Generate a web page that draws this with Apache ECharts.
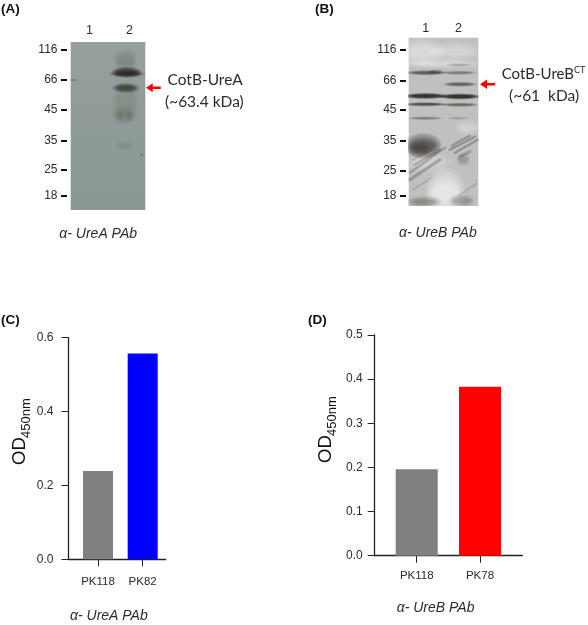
<!DOCTYPE html>
<html>
<head>
<meta charset="utf-8">
<style>html,body{margin:0;padding:0;background:#fff}#c{width:588px;height:625px}</style>
<script src="https://cdn.jsdelivr.net/npm/echarts@6/dist/echarts.min.js"></script>
</head>
<body>
<div id="c"></div>
<script>
// Marker ladders (kDa) and where each one ran on its blot (migration distance)
const markersKDa = ['116', '66', '45', '35', '25', '18'];
const migrationA = [7.3, 38, 67.3, 98.7, 128, 153.3];
const migrationB = [11.6, 43.3, 72.3, 103.3, 133.3, 158.3];
const laneLabels = ['1', '2'];

// Blot bands: [lane, migration, lane half-width, thickness, density]; negative density is a pale patch
const bandsA = [
  [1.9, 19, 0.22, 16, 0.1],
  [1.9, 60, 0.26, 26, 0.07],
  [1.87, 73, 0.24, 12, 0.09],
  [1.76, 74, 0.07, 7, 0.05],
  [2.0, 74, 0.07, 7, 0.05],
  [1.87, 104, 0.18, 7, 0.03],
  [1.94, 32, 0.34, 3.5, 0.35],
  [1.93, 30.5, 0.28, 6.5, 0.75],
  [1.91, 46, 0.25, 6, 0.55],
  [0.55, 38, 0.12, 2, 0.1],
  [2.3, 113, 0.04, 2, 0.15]
];
const bandsB = [
  [0.9, 14, 0.5, 16, -0.35],
  [1.9, 14, 0.6, 12, -0.25],
  [1.4, 26, 1.0, 6, -0.28],
  [1.6, 155, 0.45, 30, -0.55],
  [1.1, 124, 0.5, 14, -0.2],
  [2.3, 90, 0.3, 10, -0.2],
  [0.92, 108, 0.42, 15, 0.5],
  [0.8, 112, 0.26, 10, 0.22],
  [1.02, 35, 0.46, 3, 0.5],
  [1.3, 34, 0.18, 3, 0.2],
  [2.02, 35, 0.4, 2.5, 0.3],
  [2.02, 27.3, 0.28, 2, 0.14],
  [2.05, 46.6, 0.38, 3, 0.45],
  [1.0, 58.3, 0.48, 3.5, 1],
  [2.05, 58.8, 0.46, 3.5, 1],
  [1.0, 66.6, 0.48, 2.5, 0.6],
  [2.05, 67, 0.42, 2.5, 0.42],
  [0.98, 80.6, 0.4, 2, 0.3],
  [2.0, 80.6, 0.26, 2, 0.12],
  [0.95, 164, 0.4, 7, 0.22],
  [2.1, 163, 0.3, 8, 0.18],
  [2.15, 122, 0.16, 8, 0.14]
];
// Diagonal smears on blot B: [lane 1, migration 1, lane 2, migration 2, width, density]
const streaksB = [
  [0.52, 135, 1.59, 110, 1.2, 0.16],
  [0.67, 127, 1.44, 112, 1.2, 0.14],
  [0.52, 142, 1.44, 122, 1.6, 0.17],
  [0.6, 122, 1.2, 112, 1, 0.1],
  [1.74, 112, 2.51, 99, 1.2, 0.2],
  [1.9, 115, 2.6, 102, 1.2, 0.18],
  [1.8, 108, 2.35, 98, 1.2, 0.18],
  [2.05, 119, 2.35, 114, 1.6, 0.16],
  [0.6, 152, 1.2, 140, 1, 0.08],
  [2.0, 158, 2.55, 146, 1, 0.08]
];

// Bar panels
const categoriesC = ['PK118', 'PK82'];
const valuesC = [0.239, 0.557];
const colorsC = ['#808080', '#0000ff'];
const categoriesD = ['PK118', 'PK78'];
const valuesD = [0.196, 0.383];
const colorsD = ['#808080', '#ff0000'];

const sans = '"Liberation Sans", Arial, sans-serif';
const ink = '#2b2b2b';
const softLayers = [1.7, 1.45, 1.2, 1.0, 0.8, 0.55];

function drawBand(params, api) {
  const c = api.coord([api.value(0), api.value(1)]);
  const rx = api.size([api.value(2), 0])[0];
  const t = api.value(3);
  const d = api.value(4);
  const a = Math.abs(d) / softLayers.length * 1.6;
  const col = d >= 0 ? 'rgba(28,26,20,' + a + ')' : 'rgba(255,255,255,' + a + ')';
  return {
    type: 'group', silent: true,
    children: softLayers.map(k => ({
      type: 'ellipse', silent: true,
      shape: { cx: c[0], cy: c[1], rx: rx * (0.5 + k / 2), ry: t / 2 * k },
      style: { fill: col }
    }))
  };
}
function drawStreak(params, api) {
  const a = api.coord([api.value(0), api.value(1)]);
  const b = api.coord([api.value(2), api.value(3)]);
  const w = api.value(4);
  const d = api.value(5);
  return {
    type: 'group', silent: true,
    children: [2.6, 1.7, 1].map(k => ({
      type: 'line', silent: true,
      shape: { x1: a[0], y1: a[1], x2: b[0], y2: b[1] },
      style: { stroke: 'rgba(30,30,30,' + d * 0.6 + ')', lineWidth: w * k, lineCap: 'round' }
    }))
  };
}

function blotAxes(min, max, yMax, ticks, gridIndex, offset, laneMargin) {
  return {
    x: {
      type: 'value', gridIndex, min, max, position: 'top',
      axisLine: { show: false }, axisTick: { show: false }, splitLine: { show: false },
      axisLabel: {
        customValues: [1, 2], margin: laneMargin, fontFamily: sans, fontSize: 12.5, color: ink,
        formatter: v => laneLabels[v - 1]
      }
    },
    y: {
      type: 'value', gridIndex, min: 0, max: yMax, inverse: true, offset,
      axisLine: { show: false }, splitLine: { show: false },
      axisTick: { show: true, customValues: ticks, length: 6, lineStyle: { color: '#111', width: 2 } },
      axisLabel: {
        customValues: ticks, margin: 9.5, fontFamily: sans, fontSize: 12, color: ink,
        formatter: v => markersKDa[ticks.indexOf(v)]
      }
    }
  };
}
function barAxes(min, max, yMax, step, cats, gridIndex, yMargin, xMargin) {
  const line = { show: true, onZero: false, lineStyle: { color: '#222', width: 1.3 } };
  return {
    x: {
      type: 'value', gridIndex, min, max,
      axisLine: line, splitLine: { show: false },
      axisTick: { show: true, customValues: [1, 2], length: 7, lineStyle: { color: '#222', width: 1 } },
      axisLabel: {
        customValues: [1, 2], margin: xMargin, fontFamily: sans, fontSize: 11.5, color: ink,
        formatter: v => cats[v - 1]
      }
    },
    y: {
      type: 'value', gridIndex, min: 0, max: yMax, interval: step,
      axisLine: line, splitLine: { show: false },
      axisTick: { show: true, length: 7, lineStyle: { color: '#222', width: 1 } },
      axisLabel: {
        margin: yMargin, fontFamily: sans, fontSize: 12, color: ink,
        formatter: v => v.toFixed(1)
      }
    }
  };
}

const aA = blotAxes(0.53, 2.395, 168, migrationA, 0, 3.7, 5);
const aB = blotAxes(0.48, 2.609, 168.3, migrationB, 1, 2.7, 3);
const aC = barAxes(0.34, 2.515, 0.6, 0.2, categoriesC, 2, 15, 17);
const aD = barAxes(0.336, 2.668, 0.5, 0.1, categoriesD, 3, 12, 14);

function label(text, x, y, font, fontSize, extra) {
  return {
    type: 'text', x, y, silent: true,
    style: Object.assign({
      text, fontFamily: font, fontSize, fill: ink, align: 'left', verticalAlign: 'middle'
    }, extra || {})
  };
}
function od(x, y) {
  return [
    { type: 'text', x, y, rotation: Math.PI / 2, silent: true,
      style: { text: 'OD', fontFamily: sans, fontSize: 18.5, fill: '#111', align: 'left', verticalAlign: 'bottom' } },
    { type: 'text', x: x + 3.5, y: y - 27, rotation: Math.PI / 2, silent: true,
      style: { text: '450nm', fontFamily: sans, fontSize: 13, fill: '#111', align: 'left', verticalAlign: 'bottom' } }
  ];
}
function arrow(tip, head, tail, y, half) {
  return {
    type: 'polygon', silent: true,
    shape: { points: [[tip, y], [head, y - half], [head, y - 1.2], [tail, y - 1.2], [tail, y + 1.2], [head, y + 1.2], [head, y + half]] },
    style: { fill: '#ff0000' }
  };
}
const lato = 'Lato, "Open Sans", sans-serif';
const italic = { fontStyle: 'italic' };
const bold = { fontWeight: 'bold', fill: '#111' };

const option = {
  animation: false,
  backgroundColor: '#ffffff',
  grid: [
    { left: 70.7, top: 42, width: 74.6, height: 168, show: true, borderWidth: 0,
      backgroundColor: { type: 'linear', x: 0, y: 0, x2: 0, y2: 1, colorStops: [
        { offset: 0, color: '#96a09e' }, { offset: 0.5, color: '#909b99' }, { offset: 1, color: '#8b9896' }] } },
    { left: 408.7, top: 37.7, width: 69.6, height: 168.3, show: true, borderWidth: 0,
      backgroundColor: '#c0c0c0' },
    { left: 68.5, top: 337.7, width: 97.2, height: 221.6 },
    { left: 374.7, top: 335, width: 147.6, height: 220.7 }
  ],
  xAxis: [aA.x, aB.x, aC.x, aD.x],
  yAxis: [aA.y, aB.y, aC.y, aD.y],
  series: [
    { type: 'custom', xAxisIndex: 0, yAxisIndex: 0, clip: true, data: bandsA, renderItem: drawBand, encode: { x: 0, y: 1 } },
    { type: 'custom', xAxisIndex: 1, yAxisIndex: 1, clip: true, data: bandsB, renderItem: drawBand, encode: { x: 0, y: 1 } },
    { type: 'custom', xAxisIndex: 1, yAxisIndex: 1, clip: true, data: streaksB, renderItem: drawStreak, encode: { x: [0, 2], y: [1, 3] } },
    { type: 'bar', xAxisIndex: 2, yAxisIndex: 2, barWidth: 30,
      data: valuesC.map((v, i) => ({ value: [i + 1, v], itemStyle: { color: colorsC[i] } })) },
    { type: 'bar', xAxisIndex: 3, yAxisIndex: 3, barWidth: 42,
      data: valuesD.map((v, i) => ({ value: [i + 1, v], itemStyle: { color: colorsD[i] } })) }
  ],
  graphic: [
    label('(A)', 1, 9, sans, 13.5, bold),
    label('(B)', 315, 9, sans, 13.5, bold),
    label('(C)', 1, 320, sans, 13.5, bold),
    label('(D)', 308, 320, sans, 13.5, bold),
    label('CotB-UreA', 167.5, 80, lato, 15.5),
    label('(~63.4 kDa)', 165, 101.7, lato, 15.5),
    label('CotB-UreB', 501.7, 74.5, lato, 15),
    label('CT', 574, 70, lato, 9),
    label('(~61  kDa)', 509, 96, lato, 15.5),
    arrow(146, 152.7, 160.7, 87.7, 4.5),
    arrow(480, 487, 495, 84.3, 4.8),
    label('α- UreA PAb', 59.3, 234, sans, 14, italic),
    label('α- UreB PAb', 399, 233, sans, 14, italic),
    label('α- UreA PAb', 70, 615.7, sans, 14, italic),
    label('α- UreB PAb', 396.7, 607.7, sans, 14, italic),
    ...od(29, 465),
    ...od(335, 463)
  ]
};
echarts.init(document.getElementById('c'), null, { renderer: 'canvas' }).setOption(option);
</script>
</body>
</html>
